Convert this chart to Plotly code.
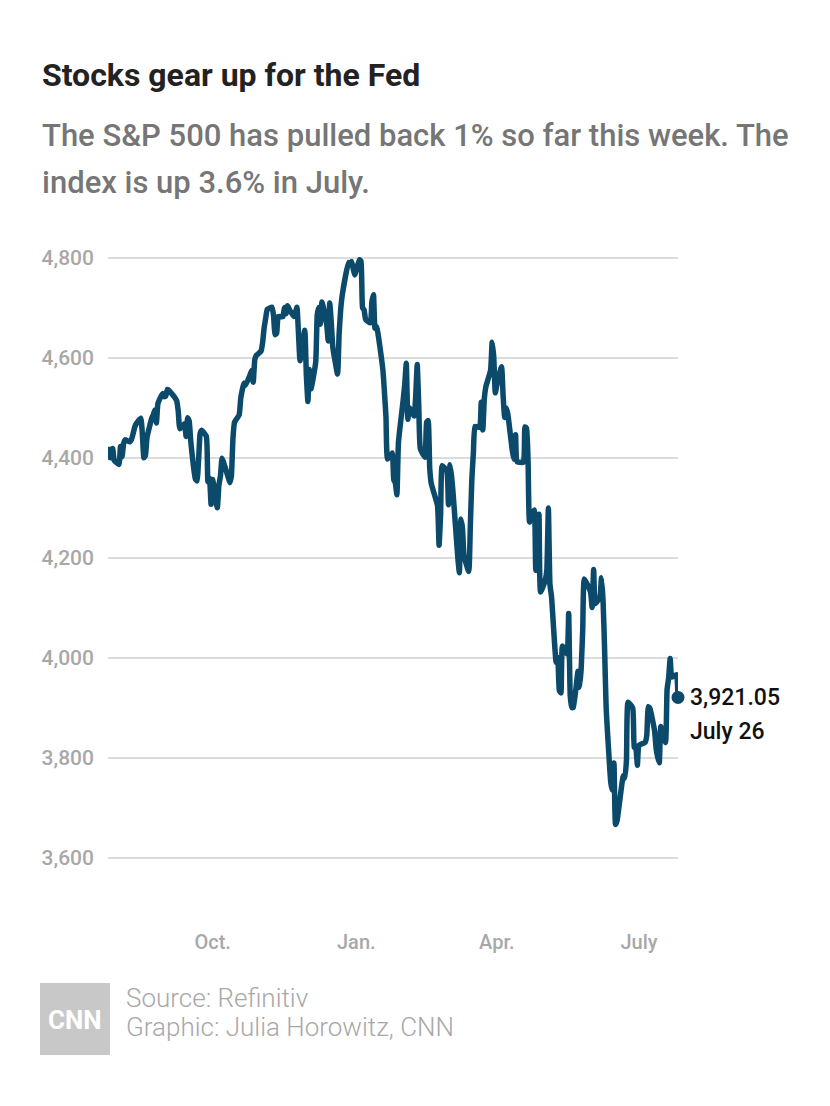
import datetime as dt
import plotly.graph_objects as go

# ---- Data: S&P 500 daily closes ----
days_2021_07 = [26, 27, 28, 29, 30]
close_2021_07 = [4422.30, 4401.46, 4400.64, 4419.15, 4395.26]
days_2021_08 = [2, 3, 4, 5, 6, 9, 10, 11, 12, 13, 16, 17, 18, 19, 20, 23, 24, 25, 26, 27, 30, 31]
close_2021_08 = [4387.16, 4423.15, 4402.66, 4429.10, 4436.52, 4432.35, 4436.75, 4447.70, 4460.83, 4468.00,
                 4479.71, 4448.08, 4400.27, 4405.80, 4441.67, 4479.53, 4486.23, 4496.19, 4470.00, 4509.37,
                 4528.79, 4522.68]
days_2021_09 = [1, 2, 3, 7, 8, 9, 10, 13, 14, 15, 16, 17, 20, 21, 22, 23, 24, 27, 28, 29, 30]
close_2021_09 = [4524.09, 4536.95, 4535.43, 4520.03, 4514.07, 4493.28, 4458.58, 4468.73, 4443.05, 4480.70,
                 4473.75, 4432.99, 4357.73, 4354.19, 4395.64, 4448.98, 4455.48, 4443.11, 4352.63, 4359.46,
                 4307.54]
days_2021_10 = [1, 4, 5, 6, 7, 8, 11, 12, 13, 14, 15, 18, 19, 20, 21, 22, 25, 26, 27, 28, 29]
close_2021_10 = [4357.04, 4300.46, 4345.72, 4363.55, 4399.76, 4391.34, 4361.19, 4350.65, 4363.80, 4438.26,
                 4471.37, 4486.46, 4519.63, 4536.19, 4549.78, 4544.90, 4566.48, 4574.79, 4551.68, 4596.42,
                 4605.38]
days_2021_11 = [1, 2, 3, 4, 5, 8, 9, 10, 11, 12, 15, 16, 17, 18, 19, 22, 23, 24, 26, 29, 30]
close_2021_11 = [4613.67, 4630.65, 4660.57, 4680.06, 4697.53, 4701.70, 4685.25, 4646.71, 4649.27, 4682.85,
                 4682.80, 4700.90, 4688.67, 4704.54, 4697.96, 4682.94, 4690.70, 4701.46, 4594.62, 4655.27,
                 4567.00]
days_2021_12 = [1, 2, 3, 6, 7, 8, 9, 10, 13, 14, 15, 16, 17, 20, 21, 22, 23, 27, 28, 29, 30, 31]
close_2021_12 = [4513.04, 4577.10, 4538.43, 4591.67, 4686.75, 4701.21, 4667.45, 4712.02, 4668.97, 4634.09,
                 4709.85, 4668.67, 4620.64, 4568.02, 4649.23, 4696.56, 4725.79, 4791.19, 4786.35, 4793.06,
                 4778.73, 4766.18]
days_2022_01 = [3, 4, 5, 6, 7, 10, 11, 12, 13, 14, 18, 19, 20, 21, 24, 25, 26, 27, 28, 31]
close_2022_01 = [4796.56, 4793.54, 4700.58, 4696.05, 4677.03, 4670.29, 4713.07, 4726.35, 4659.03, 4662.85,
                 4577.11, 4532.76, 4482.73, 4397.94, 4410.13, 4356.45, 4349.93, 4326.51, 4431.85, 4515.55]
days_2022_02 = [1, 2, 3, 4, 7, 8, 9, 10, 11, 14, 15, 16, 17, 18, 22, 23, 24, 25, 28]
close_2022_02 = [4546.54, 4589.38, 4477.44, 4500.53, 4483.87, 4521.54, 4587.18, 4504.08, 4418.64, 4401.67,
                 4471.07, 4475.01, 4380.26, 4348.87, 4304.76, 4225.50, 4288.70, 4384.65, 4373.94]
days_2022_03 = [1, 2, 3, 4, 7, 8, 9, 10, 11, 14, 15, 16, 17, 18, 21, 22, 23, 24, 25, 28, 29, 30, 31]
close_2022_03 = [4306.26, 4386.54, 4363.49, 4328.87, 4201.09, 4170.70, 4277.88, 4259.52, 4204.31, 4173.11,
                 4262.45, 4357.86, 4411.67, 4463.12, 4461.18, 4511.61, 4456.24, 4520.16, 4543.06, 4575.52,
                 4631.60, 4602.45, 4530.41]
days_2022_04 = [1, 4, 5, 6, 7, 8, 11, 12, 13, 14, 18, 19, 20, 21, 22, 25, 26, 27, 28, 29]
close_2022_04 = [4545.86, 4582.64, 4525.12, 4481.15, 4500.21, 4488.28, 4412.53, 4397.45, 4446.59, 4392.59,
                 4391.69, 4462.21, 4459.45, 4393.66, 4271.78, 4296.12, 4175.20, 4183.96, 4287.50, 4131.93]
days_2022_05 = [2, 3, 4, 5, 6, 9, 10, 11, 12, 13, 16, 17, 18, 19, 20, 23, 24, 25, 26, 27, 31]
close_2022_05 = [4155.38, 4175.48, 4300.17, 4146.87, 4123.34, 3991.24, 4001.05, 3935.18, 3930.08, 4023.89,
                 4008.01, 4088.85, 3923.68, 3900.79, 3901.36, 3973.75, 3941.48, 3978.73, 4057.84, 4158.24,
                 4132.15]
days_2022_06 = [1, 2, 3, 6, 7, 8, 9, 10, 13, 14, 15, 16, 17, 21, 22, 23, 24, 27, 28, 29, 30]
close_2022_06 = [4101.23, 4176.82, 4108.54, 4121.43, 4160.68, 4115.77, 4017.82, 3900.86, 3749.63, 3735.48,
                 3789.99, 3666.77, 3674.84, 3764.79, 3759.89, 3795.73, 3911.74, 3900.11, 3821.55, 3818.83,
                 3785.38]
days_2022_07 = [1, 5, 6, 7, 8, 11, 12, 13, 14, 15, 18, 19, 20, 21, 22, 25, 26]
close_2022_07 = [3825.33, 3831.39, 3845.08, 3902.62, 3899.38, 3854.43, 3818.80, 3801.78, 3790.38, 3863.16,
                 3830.85, 3936.69, 3959.90, 3998.95, 3961.63, 3966.84, 3921.05]

x_tick_dates = ["2021-10-01", "2022-01-01", "2022-04-01", "2022-07-01"]
x_tick_labels = ["Oct.", "Jan.", "Apr.", "July"]
y_tick_values = [3600, 3800, 4000, 4200, 4400, 4600, 4800]

months = [
    (2021, 7, days_2021_07, close_2021_07), (2021, 8, days_2021_08, close_2021_08),
    (2021, 9, days_2021_09, close_2021_09), (2021, 10, days_2021_10, close_2021_10),
    (2021, 11, days_2021_11, close_2021_11), (2021, 12, days_2021_12, close_2021_12),
    (2022, 1, days_2022_01, close_2022_01), (2022, 2, days_2022_02, close_2022_02),
    (2022, 3, days_2022_03, close_2022_03), (2022, 4, days_2022_04, close_2022_04),
    (2022, 5, days_2022_05, close_2022_05), (2022, 6, days_2022_06, close_2022_06),
    (2022, 7, days_2022_07, close_2022_07),
]
dates, closes = [], []
for y, m, ds, cs in months:
    for d, c in zip(ds, cs):
        dates.append(dt.date(y, m, d))
        closes.append(c)

# ---- Layout geometry (page pixels; the page body adds an 8px offset) ----
OFF = 8
W, H = 830 - 2 * OFF, 1106 - 2 * OFF
L, R, T, B = 108 - OFF, 678 - OFF, 238 - OFF, 878 - OFF
YMIN, YMAX = 3560, 4840

def px(xp):
    return (xp - OFF - L) / (R - L)

def py(yp):
    return (B - (yp - OFF)) / (B - T)

LINE = "#0b4a6b"
GRAY = "#a8a8a8"
FONT = "Roboto"

fig = go.Figure()
fig.add_trace(go.Scatter(x=dates, y=closes, mode="lines",
                         line=dict(color=LINE, width=5.5, shape="spline", smoothing=0.4),
                         hoverinfo="skip", showlegend=False, cliponaxis=False))
fig.add_trace(go.Scatter(x=[dates[-1]], y=[closes[-1]], mode="markers",
                         marker=dict(color=LINE, size=13), hoverinfo="skip", showlegend=False,
                         cliponaxis=False))

fig.update_layout(
    width=W, height=H,
    margin=dict(l=L, r=W - R, t=T, b=H - B, pad=0),
    paper_bgcolor="white", plot_bgcolor="white",
    showlegend=False,
    xaxis=dict(type="date", range=[dates[0], dates[-1]], showgrid=False, zeroline=False,
               showline=False, tickvals=x_tick_dates, ticktext=x_tick_labels,
               tickfont=dict(family=FONT, size=20, color=GRAY, weight=500),
               ticks="", ticklabelstandoff=50),
    yaxis=dict(range=[YMIN, YMAX], tickvals=y_tick_values, tickformat=",",
               showgrid=True, gridcolor="#dcdcdc", gridwidth=1.5, zeroline=False, showline=False,
               tickfont=dict(family=FONT, size=21, color=GRAY, weight=500),
               ticks="", ticklabelstandoff=13),
)

ann = []
def add_text(text, x, y, size, color, weight, anchor="left"):
    ann.append(dict(text=text, x=px(x), y=py(y), xref="paper", yref="paper",
                    xanchor=anchor, yanchor="middle", showarrow=False,
                    font=dict(family=FONT, size=size, color=color, weight=weight)))

add_text("Stocks gear up for the Fed", 40, 75, 32, "#222222", 700)
add_text("The S&P 500 has pulled back 1% so far this week. The", 40, 135, 31, "#767676", 500)
add_text("index is up 3.6% in July.", 40, 182, 31, "#767676", 500)
add_text(f"{closes[-1]:,.2f}", 688, 697, 23, "#111111", 500)
add_text("July 26", 688, 731, 23, "#111111", 500)
add_text("CNN", 75, 1020, 26, "white", 700, anchor="center")
add_text("Source: Refinitiv", 124, 998, 26, GRAY, 300)
add_text("Graphic: Julia Horowitz, CNN", 124, 1027, 26, GRAY, 300)
fig.update_layout(annotations=ann)

fig.add_shape(type="rect", xref="paper", yref="paper", x0=px(40), x1=px(110), y0=py(983), y1=py(1055),
              fillcolor="#c8c8c8", line=dict(width=0), layer="below")

fig.write_html("out.html")
